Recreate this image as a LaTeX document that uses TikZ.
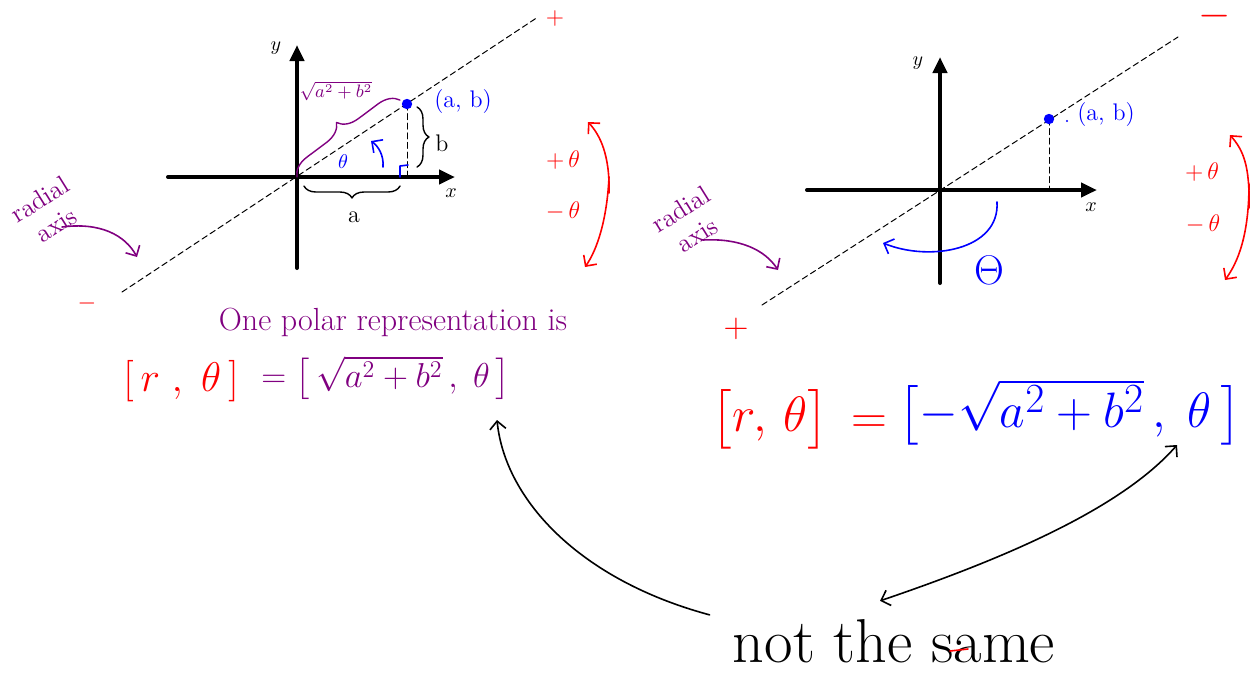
\documentclass[tikz,border=0pt]{standalone}
\usepackage{amsmath}
\usetikzlibrary{arrows.meta,calc,positioning,decorations.pathreplacing}
\definecolor{inkred}{RGB}{255,0,0}
\definecolor{inkblue}{RGB}{0,0,255}
\definecolor{inkpurple}{RGB}{128,0,128}

\tikzset{
  axisline/.style={line width=2pt, -{Triangle[length=8pt,width=7pt]}},
  radialline/.style={line width=0.5pt, dash pattern=on 3pt off 1.8pt},
  pen/.style={line width=0.8pt, -{Straight Barb[length=4pt,width=8pt]}},
  twopen/.style={line width=0.8pt, {Straight Barb[length=4pt,width=8pt]}-{Straight Barb[length=4pt,width=8pt]}},
  curly/.style={decorate, decoration={brace, amplitude=#1}, line width=0.7pt},
  axlabel/.style={font=\fontsize{10}{12}\selectfont},
}

\begin{document}
\begin{tikzpicture}[x=0.5pt, y=-0.5pt, line cap=round, line join=round]
  \useasboundingbox (0,0) rectangle (1259,677);

  % Points, left picture
  \coordinate (O1) at (297,177);
  \coordinate (P1) at (407,104);
  \coordinate (F1) at (407,177);

  % Axes and radial axis
  \draw[axisline] (168,177) -- (455,177);
  \draw[axisline] (297,268) -- (297,45);
  \node[axlabel] (y1) at (276,48) {$y$};
  \node[axlabel] (x1) at (451,193) {$x$};
  \draw[radialline] (122,292) -- (538,17);
  \draw[radialline] (P1) -- (F1);
  \fill[inkblue] (P1) circle (2.6pt);
  \node[inkblue, font=\fontsize{12}{14}\selectfont] (ab1) at (463,102) {(a, b)};

  % Braces
  \draw[curly=6pt] (417,107) -- (417,167);
  \node[font=\fontsize{12}{14}\selectfont] (b1) at (442,143) {b};
  \draw[curly=6pt] (400,186) -- (304,186);
  \node[font=\fontsize{12}{14}\selectfont] (a1) at (354,217) {a};
  \draw[curly=10pt, inkpurple] (O1) -- (400,100);
  \node[inkpurple, font=\fontsize{9}{11}\selectfont] (r1) at (336,91) {$\sqrt{a^2+b^2}$};

  % Angle
  \node[inkblue, font=\fontsize{10}{12}\selectfont] (t1) at (343,162) {$\theta$};
  \draw[inkblue, pen] (383,167) .. controls (384,155) and (378,146) .. (371,141);
  \draw[inkblue, line width=0.8pt] (400,177) -- (400,166) -- (408,165);

  % Signs
  \node[inkred, font=\fontsize{12}{14}\selectfont, inner sep=0pt] (plus1) at (555,18) {$+$};
  \node[inkred, font=\fontsize{13}{15}\selectfont, inner sep=0pt] (minus1) at (87,303) {$-$};
  \node[inkred, font=\fontsize{12}{14}\selectfont] (pt1) at (563,160) {$+\,\theta$};
  \node[inkred, font=\fontsize{12}{14}\selectfont] (mt1) at (563,211) {$-\,\theta$};
  \coordinate (M1) at (609,185);
  \draw[inkred, pen] ([yshift=-4]M1) .. controls (610,155) and (600,135) .. (588,122);
  \draw[inkred, pen] ([yshift=4]M1) .. controls (607,220) and (597,250) .. (585,267);

  % Radial axis label
  \node[inkpurple, align=center, rotate=32, inner sep=0pt,
        font=\fontsize{13}{15}\selectfont] (rad1) at (48,212) {radial\\axis};
  \draw[inkpurple, pen] (62,227) .. controls (100,222) and (125,235) .. (137,257);

  % Points, right picture
  \coordinate (O2) at (940,190);
  \coordinate (P2) at (1049,119);
  \coordinate (F2) at (1049,190);

  % Axes and radial axis
  \draw[axisline] (807,190) -- (1097,190);
  \draw[axisline] (940,283) -- (940,57);
  \node[axlabel] (y2) at (918,63) {$y$};
  \node[axlabel] (x2) at (1091,207) {$x$};
  \draw[radialline] (762,305) -- (1178,37);
  \draw[radialline] (P2) -- (F2);
  \fill[inkblue] (P2) circle (2.6pt);
  \fill[inkblue] (1067,121) circle (0.6pt);
  \node[inkblue, font=\fontsize{12}{14}\selectfont] (ab2) at (1106,115) {(a, b)};

  % Angle
  \draw[inkblue, pen] (997,202) .. controls (1000,250) and (930,262) .. (883,243);
  \node[inkblue, font=\fontsize{20}{24}\selectfont] (t2) at (989,270) {$\Theta$};

  % Signs
  \node[inkred, font=\fontsize{20}{22}\selectfont, inner sep=0pt] (minus2) at (1215,26) {$\smash{-}$};
  \node[inkred, font=\fontsize{16}{18}\selectfont, inner sep=0pt] (plus2) at (736,329) {$+$};
  \node[inkred, font=\fontsize{12}{14}\selectfont] (pt2) at (1202,172) {$+\,\theta$};
  \node[inkred, font=\fontsize{12}{14}\selectfont] (mt2) at (1203,224) {$-\,\theta$};
  \coordinate (M2) at (1249,196);
  \draw[inkred, pen] ([yshift=-6]M2) .. controls (1250,165) and (1243,150) .. (1230,135);
  \draw[inkred, pen] ([yshift=6]M2) .. controls (1249,235) and (1238,262) .. (1225,280);

  % Radial axis label
  \node[inkpurple, align=center, rotate=32, inner sep=0pt,
        font=\fontsize{13}{15}\selectfont] (rad2) at (689,222) {radial\\axis};
  \draw[inkpurple, pen] (703,240) .. controls (740,238) and (765,250) .. (778,270);

  % Polar forms
  \node[inkpurple, font=\fontsize{16}{18}\selectfont, inner sep=0pt] (one) at (393,322) {One polar representation is};
  \node[inkred, font=\fontsize{20}{24}\selectfont, inner sep=0pt] (rtL) at (181,381) {$[\,r\;,\;\theta\,]$};
  \node[inkpurple, font=\fontsize{18}{22}\selectfont, inner sep=0pt, anchor=west] (polL) at (261,378)
    {$=\bigl[\,\sqrt{a^2+b^2}\,,\;\theta\,\bigr]$};
  \node[inkred, font=\fontsize{36}{40}\selectfont, inner sep=0pt] (rtR) at (770,419) {$\bigl[r,\,\theta\bigr]$};
  \node[inkred, font=\fontsize{24}{28}\selectfont, inner sep=0pt] (eqR) at (869,425) {$=$};
  \node[inkblue, font=\fontsize{30}{34}\selectfont, inner sep=0pt] (polR) at (1070,412)
    {$\bigl[-\sqrt{a^2+b^2}\,,\;\theta\,\bigr]$};

  % Comment
  \node[font=\fontsize{31}{34}\selectfont, inner sep=0pt] (notsame) at (894,641) {not the same};
  \draw[inkred, line width=0.8pt] (950,651) -- (968,649);
  \coordinate (tipL) at (497,420);
  \coordinate (tipR) at (1177,445);
  \draw[pen] ([shift={(-23,-4)}]notsame.north west) .. controls (580,580) and (505,500) .. (tipL);
  \draw[twopen] ([shift={(-14,-18)}]notsame.north)
    .. controls (1000,560) and (1120,510) .. (tipR);
\end{tikzpicture}
\end{document}
